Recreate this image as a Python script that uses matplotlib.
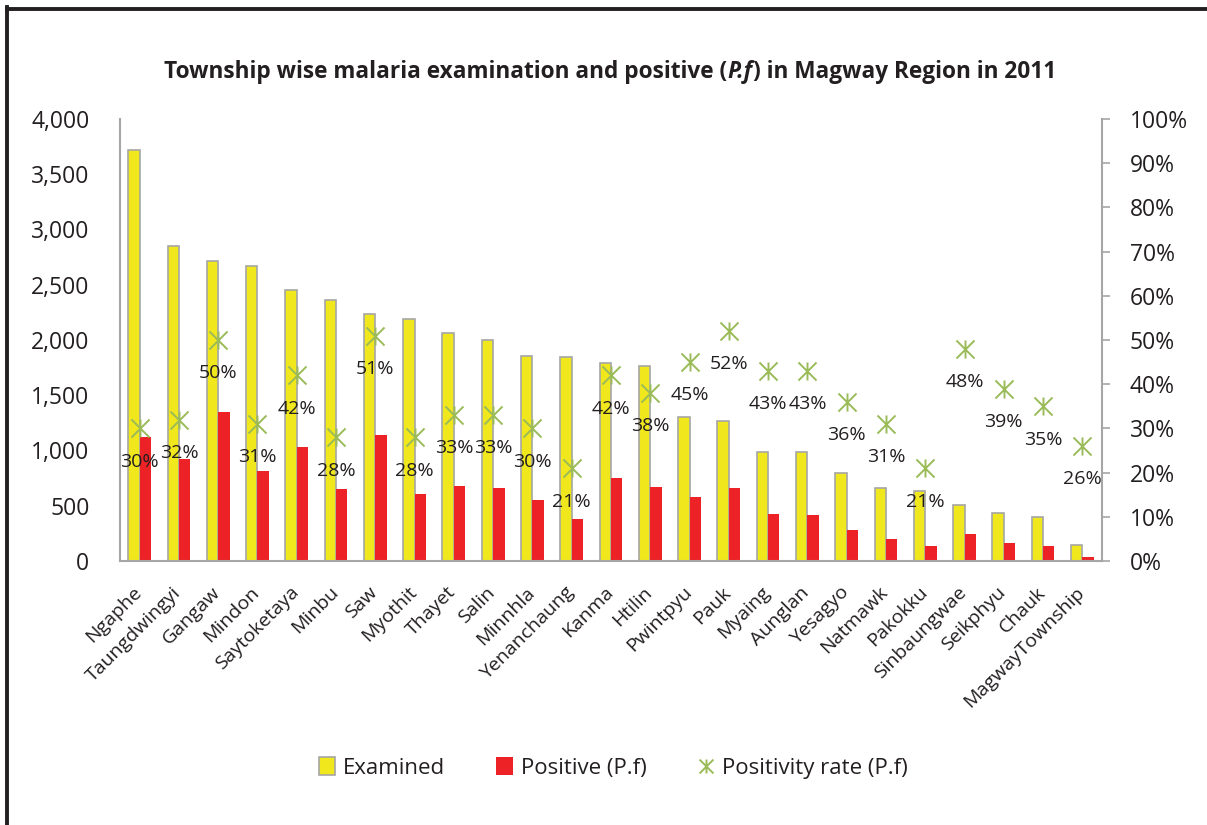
import matplotlib.pyplot as plt
import numpy as np
from matplotlib.patches import Rectangle
from matplotlib.lines import Line2D
from matplotlib.path import Path
from matplotlib.transforms import ScaledTranslation
from matplotlib.ticker import FuncFormatter, PercentFormatter

plt.rcParams["font.family"] = ["Open Sans", "DejaVu Sans"]

townships = ["Ngaphe", "Taungdwingyi", "Gangaw", "Mindon", "Saytoketaya", "Minbu",
             "Saw", "Myothit", "Thayet", "Salin", "Minnhla", "Yenanchaung", "Kanma",
             "Htilin", "Pwintpyu", "Pauk", "Myaing", "Aunglan", "Yesagyo", "Natmawk",
             "Pakokku", "Sinbaungwae", "Seikphyu", "Chauk", "MagwayTownship"]
examined = [3720, 2853, 2715, 2667, 2452, 2362, 2232, 2187, 2066, 2000, 1855, 1846,
            1789, 1768, 1303, 1270, 986, 986, 794, 658, 633, 507, 431, 398, 142]
positive = [1119, 923, 1345, 814, 1032, 652, 1140, 606, 679, 661, 552, 380,
            751, 670, 579, 661, 425, 416, 281, 199, 136, 244, 163, 136, 36]
rate_pct = [30, 32, 50, 31, 42, 28, 51, 28, 33, 33, 30, 21,
            42, 38, 45, 52, 43, 43, 36, 31, 21, 48, 39, 35, 26]

YELLOW = "#F0E81C"
RED = "#EC2227"
GREEN = "#9BBB59"
GRAY = "#A6A6A6"
INK = "#231F20"

# x with a vertical stroke, like the spreadsheet "star" marker
STAR = Path([(-1, -1), (1, 1), (-1, 1), (1, -1), (0, -1), (0, 1)],
            [Path.MOVETO, Path.LINETO, Path.MOVETO, Path.LINETO, Path.MOVETO, Path.LINETO])

fig = plt.figure(figsize=(12.07, 8.25), dpi=100)
ax = fig.add_axes([0.0994, 0.32, 0.8136, 0.5358])
ax2 = ax.twinx()

x = np.arange(len(townships))
w = 0.29
ax.bar(x - w / 2, examined, w, color=YELLOW, edgecolor=GRAY, linewidth=1.2, zorder=2)
ax.bar(x + w / 2, positive, w, color=RED, edgecolor="none", zorder=2)

ax.set_xlim(-0.5, len(townships) - 0.5)
ax.set_ylim(0, 4000)
ax.set_yticks(np.arange(0, 4001, 500))
ax.yaxis.set_major_formatter(FuncFormatter(lambda v, p: f"{int(v):,}"))
ax.tick_params(axis="y", length=0, labelsize=16.5, pad=22, colors=INK)
ax.set_xticks(x)
ax.set_xticklabels(townships, rotation=45, ha="right", rotation_mode="anchor",
                   fontsize=14, color=INK)
ax.tick_params(axis="x", length=0, pad=16)
shift = ScaledTranslation(-7 / 100, 0, fig.dpi_scale_trans)
for lab in ax.get_xticklabels():
    lab.set_transform(lab.get_transform() + shift)

rate = [r / 100 for r in rate_pct]
ax2.plot(x, rate, linestyle="none", marker=STAR, markersize=13, markeredgewidth=1.4,
         color=GREEN, zorder=3)
for xi, r, rp in zip(x, rate, rate_pct):
    ax2.annotate(f"{rp}%", (xi, r), xytext=(0, -24), textcoords="offset points",
                 ha="center", va="center", fontsize=14, color=INK)
ax2.set_ylim(0, 1)
ax2.set_yticks(np.arange(0, 1.01, 0.1))
ax2.yaxis.set_major_formatter(PercentFormatter(1.0, decimals=0))
ax2.tick_params(axis="y", direction="out", length=6, width=1.2, color=GRAY,
                labelsize=16.5, pad=14, labelcolor=INK)

for a in (ax, ax2):
    for s in a.spines.values():
        s.set_visible(False)
ax.spines["left"].set_visible(True)
ax.spines["bottom"].set_visible(True)
ax2.spines["right"].set_visible(True)
for s in (ax.spines["left"], ax.spines["bottom"], ax2.spines["right"]):
    s.set_color(GRAY)
    s.set_linewidth(1.5)

# title with italic P.f
fig.canvas.draw()
renderer = fig.canvas.get_renderer()
parts = [("Township wise malaria examination and positive (", "normal"),
         ("P.f", "italic"),
         (") in Magway Region in 2011", "normal")]
tkw = dict(fontsize=16.3, fontweight="bold", va="center", color=INK)
texts = []
total = 0
for s, st in parts:
    t = fig.text(0, 0.9127, s, style=st, **tkw)
    total += t.get_window_extent(renderer).width
    texts.append(t)
xpos = 610 - total / 2
for t in texts:
    t.set_x(xpos / fig.bbox.width)
    xpos += t.get_window_extent(renderer).width

handles = [Rectangle((0, 0), 1, 1, facecolor=YELLOW, edgecolor=GRAY, linewidth=1.2),
           Rectangle((0, 0), 1, 1, facecolor=RED, edgecolor="none"),
           Line2D([], [], linestyle="none", marker=STAR, color=GREEN, markersize=10,
                  markeredgewidth=1.4)]
fig.legend(handles, ["Examined", "Positive (P.f)", "Positivity rate (P.f)"],
           loc="center", bbox_to_anchor=(0.508, 0.069), ncol=3, frameon=False,
           fontsize=16, handlelength=0.75, handleheight=0.85, handletextpad=0.35,
           columnspacing=2.3, labelcolor=INK)

# outer frame (left and top edges)
fig.add_artist(Line2D([0.0058, 0.0058], [0, 0.9915], transform=fig.transFigure,
                      color=INK, linewidth=2.8))
fig.add_artist(Line2D([0.0058, 1.0], [0.9885, 0.9885], transform=fig.transFigure,
                      color=INK, linewidth=2.8))

fig.savefig("out.png", dpi=100)
